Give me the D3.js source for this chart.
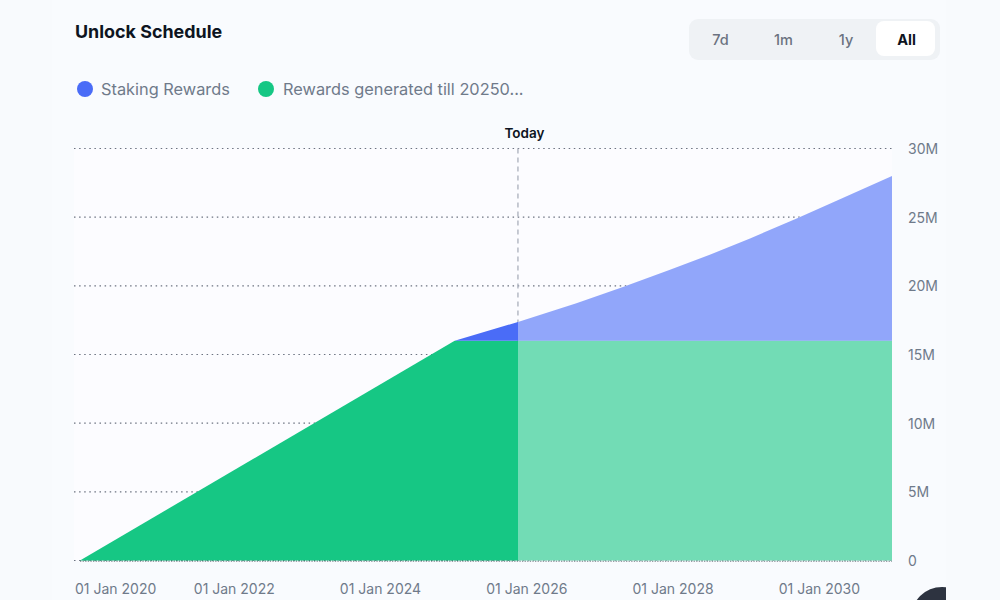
<!DOCTYPE html>
<html>
<head>
<meta charset="utf-8">
<script src="https://cdn.jsdelivr.net/npm/d3@7"></script>
<style>
    html, body { margin: 0; padding: 0; background: #f8fafd; overflow: hidden; }
    svg { display: block; font-family: Inter, "Noto Sans", sans-serif; }
    .domain { display: none; }
</style>
</head>
<body>
<script>
const dates = ["2019-11-25", "2025-01-08", "2025-11-20", "2026-09-08", "2027-04-25", "2027-12-16", "2028-07-05", "2029-01-22", "2029-09-12", "2030-04-16", "2031-01-01"];
const rewardsGenerated = [0, 16, 16, 16, 16, 16, 16, 16, 16, 16, 16];
const stakingRewards = [0, 0, 1.37, 2.74, 3.9, 5.15, 6.27, 7.45, 8.91, 10.3, 12.0];
const yTicks = [0, 5, 10, 15, 20, 25, 30];
const xTickDates = ["2020-01-01", "2022-01-01", "2024-01-01", "2026-01-01", "2028-01-01", "2030-01-01"];
const todayDate = "2025-11-20";
const legendNames = ["Staking Rewards", "Rewards generated till 20250..."];
const rangeButtons = ["7d", "1m", "1y", "All"];

const width = 1000;
const height = 600;
const plot = { left: 74, areaLeft: 80, right: 892, top: 148.5, bottom: 560.5 };
const BLUE = "#4a6cf7";
const GREEN = "#16c784";
const PLOT_BG = "#fcfcff";
const GREY_TEXT = "#6f7a8a";
const DARK_TEXT = "#0d1421";

const parseDate = d3.utcParse("%Y-%m-%d");
const formatDate = d3.utcFormat("%d %b %Y");

const svg = d3.select("body")
    .append("svg")
    .attr("width", width)
    .attr("height", height);

// card and plot backgrounds are only just lighter than the page
svg.append("rect").attr("x", 52).attr("y", 0).attr("width", 894).attr("height", height).attr("fill", "#f9fbfe");
svg.append("rect").attr("x", plot.left).attr("y", plot.top).attr("width", plot.right - plot.left).attr("height", plot.bottom - plot.top).attr("fill", PLOT_BG);

const xScale = d3.scaleUtc()
    .domain([parseDate(dates[0]), parseDate(dates[dates.length - 1])])
    .range([plot.areaLeft, plot.right]);

const yScale = d3.scaleLinear()
    .domain([0, 30])
    .range([plot.bottom, plot.top]);

const rows = dates.map((d, i) => ({
    date: parseDate(d),
    rewards: rewardsGenerated[i],
    staking: stakingRewards[i]
}));
const stacked = d3.stack().keys(["rewards", "staking"])(rows);

// grid
svg.append("g")
    .selectAll("line")
    .data(yTicks)
    .enter()
    .append("line")
    .attr("x1", plot.left)
    .attr("x2", plot.right)
    .attr("y1", d => yScale(d))
    .attr("y2", d => yScale(d))
    .attr("stroke", "#6b7280")
    .attr("stroke-width", 1.2)
    .attr("stroke-dasharray", "1.5 3.6");

svg.append("line")
    .attr("x1", plot.areaLeft)
    .attr("x2", plot.right)
    .attr("y1", yScale(0) + 0.5)
    .attr("y2", yScale(0) + 0.5)
    .attr("stroke", "#39404d")
    .attr("stroke-width", 1.2)
    .attr("stroke-dasharray", "1.3 1.3");

// today marker
const todayX = xScale(parseDate(todayDate));
svg.append("line")
    .attr("x1", todayX)
    .attr("x2", todayX)
    .attr("y1", plot.top)
    .attr("y2", plot.bottom)
    .attr("stroke", "#b0b5c0")
    .attr("stroke-width", 1.4)
    .attr("stroke-dasharray", "5 4");

svg.append("text")
    .attr("x", todayX + 6.5)
    .attr("y", 138)
    .attr("text-anchor", "middle")
    .attr("font-size", 13.5)
    .attr("font-weight", 600)
    .attr("fill", DARK_TEXT)
    .text("Today");

// areas, solid until today and faded after it
const defs = svg.append("defs");
defs.append("clipPath").attr("id", "past").append("rect")
    .attr("x", 0).attr("y", 0).attr("width", todayX).attr("height", height);
defs.append("clipPath").attr("id", "future").append("rect")
    .attr("x", todayX).attr("y", 0).attr("width", width - todayX).attr("height", height);

const area = d3.area()
    .x(d => xScale(d.data.date))
    .y0(d => yScale(d[0]))
    .y1(d => yScale(d[1]));

const seriesColors = [GREEN, BLUE];
// the faded part hides the grid, so it sits on a plain backing
[["future", PLOT_BG, 1], ["past", null, 1], ["future", null, 0.6]].forEach(([clip, fill, opacity]) => {
    svg.append("g")
        .attr("clip-path", `url(#${clip})`)
        .selectAll("path")
        .data(stacked)
        .enter()
        .append("path")
        .attr("d", area)
        .attr("fill", (d, i) => fill || seriesColors[i])
        .attr("fill-opacity", opacity);
});

// axes
const xAxis = svg.append("g")
    .attr("transform", `translate(0,${plot.bottom})`)
    .call(d3.axisBottom(xScale)
        .tickValues(xTickDates.map(parseDate))
        .tickFormat(formatDate)
        .tickSize(0)
        .tickPadding(23.5));
xAxis.selectAll("text")
    .attr("font-family", "Inter")
    .attr("font-size", 14)
    .attr("fill", GREY_TEXT);
// the first label is held inside the plot edge
xAxis.selectAll("text")
    .filter((d, i) => i === 0)
    .attr("text-anchor", "start")
    .attr("x", d => plot.left + 0.5 - xScale(d));

const yAxis = svg.append("g")
    .attr("transform", `translate(${plot.right},0.5)`)
    .call(d3.axisRight(yScale)
        .tickValues(yTicks)
        .tickFormat(d => d === 0 ? "0" : `${d}M`)
        .tickSize(0)
        .tickPadding(16));
yAxis.selectAll("text")
    .attr("font-family", "Inter")
    .attr("font-size", 14)
    .attr("fill", GREY_TEXT);

// title
svg.append("text")
    .attr("x", 75)
    .attr("y", 38)
    .attr("font-size", 17.9)
    .attr("font-weight", 700)
    .attr("fill", DARK_TEXT)
    .text("Unlock Schedule");

// legend
const legendX = [85, 266];
const legend = svg.append("g")
    .selectAll("g")
    .data(legendNames)
    .enter()
    .append("g")
    .attr("transform", (d, i) => `translate(${legendX[i]},89)`);
legend.append("circle")
    .attr("r", 8)
    .attr("fill", (d, i) => i === 0 ? BLUE : GREEN);
legend.append("text")
    .attr("x", (d, i) => i === 0 ? 16 : 17)
    .attr("y", 6)
    .attr("font-size", 16.35)
    .attr("fill", GREY_TEXT)
    .text(d => d);

// range selector
svg.append("rect")
    .attr("x", 689).attr("y", 19).attr("width", 251).attr("height", 41).attr("rx", 9)
    .attr("fill", "#eff2f5");
svg.append("rect")
    .attr("x", 876).attr("y", 21).attr("width", 59).attr("height", 35).attr("rx", 8)
    .attr("fill", "#ffffff");
const buttonX = [720.5, 783.5, 846, 906.5];
svg.append("g")
    .selectAll("text")
    .data(rangeButtons)
    .enter()
    .append("text")
    .attr("x", (d, i) => buttonX[i])
    .attr("y", 44.5)
    .attr("text-anchor", "middle")
    .attr("font-size", 14.5)
    .attr("font-weight", d => d === "All" ? 700 : 500)
    .attr("fill", d => d === "All" ? DARK_TEXT : "#6b7280")
    .text(d => d);

// chat widget peeking in at the bottom, cut by the card edge
defs.append("clipPath").attr("id", "card").append("rect")
    .attr("x", 0).attr("y", 0).attr("width", 946).attr("height", height);
svg.append("circle")
    .attr("cx", 942).attr("cy", 618).attr("r", 31)
    .attr("fill", "#2d3340")
    .attr("clip-path", "url(#card)");
</script>
</body>
</html>
